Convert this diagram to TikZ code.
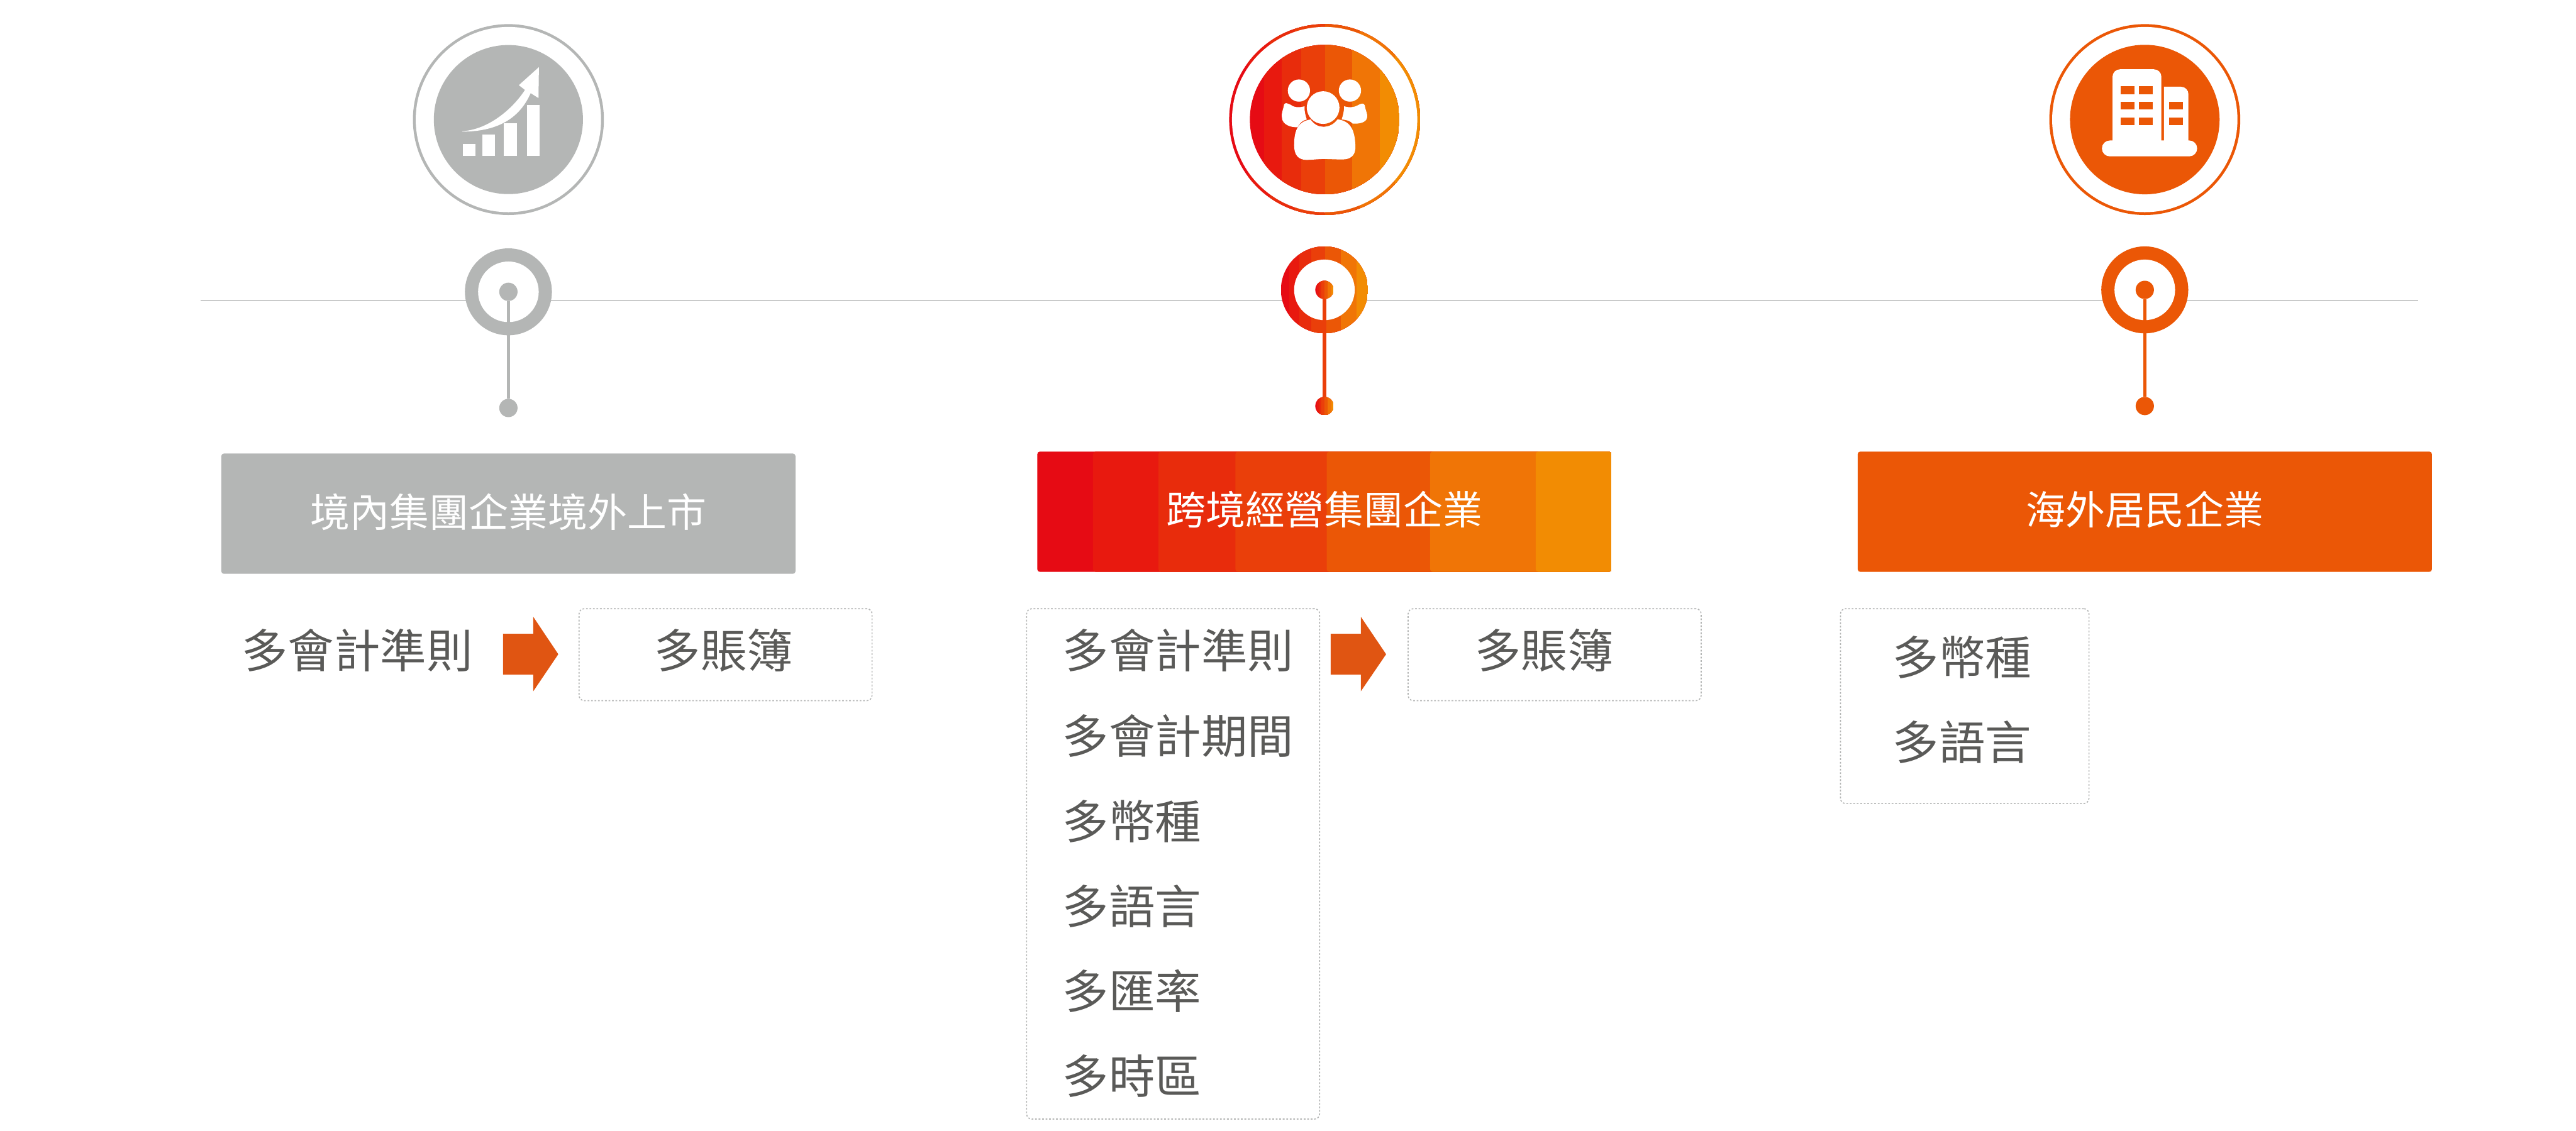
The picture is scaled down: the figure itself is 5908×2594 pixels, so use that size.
\documentclass[tikz,border=0pt]{standalone}
\usepackage{fontspec}
\newfontfamily\cjk{Noto Sans CJK TC}
\definecolor{bA}{HTML}{E60B14}
\definecolor{bB}{HTML}{E8190F}
\definecolor{bC}{HTML}{E82C0C}
\definecolor{bD}{HTML}{EA3F0A}
\definecolor{bE}{HTML}{EB5706}
\definecolor{bF}{HTML}{F07506}
\definecolor{bG}{HTML}{F28C03}
\definecolor{greyc}{HTML}{B4B6B5}
\definecolor{txtc}{HTML}{5A5A58}
\definecolor{arrc}{HTML}{E05512}
\definecolor{linec}{HTML}{C9CACA}
\tikzset{
  bands/.style={path picture={
    \foreach \bc/\ba in {bA/0,bB/.097,bC/.211,bD/.345,bE/.504,bF/.684,bG/.868}
      \fill[\bc] ([xshift=\ba*#1*0.25pt]path picture bounding box.south west)
        rectangle (path picture bounding box.north east);
  }},
  dotn/.style={circle,inner sep=0pt,outer sep=0pt,minimum size=#1*0.25pt},
  hbox/.style={rectangle,inner sep=0pt,outer sep=0pt,rounded corners=1.5pt,
    minimum width=1317*0.25pt,minimum height=276*0.25pt,text=white,
    font=\cjk\fontsize{22.7}{22.7}\selectfont,text height=18pt,text depth=2.88pt},
  dbox/.style={rectangle,inner sep=0pt,outer sep=0pt,draw=greyc,line width=0.6pt,
    dash pattern=on 1pt off 1pt,rounded corners=3pt,anchor=north west},
  lab/.style={anchor=base west,inner sep=0pt,outer sep=0pt,text=txtc,
    font=\cjk\fontsize{26.5}{26.5}\selectfont},
  stemline/.style={line width=2pt},
  tl/.style={line width=0.75pt,linec},
  blockarrow/.style={fill=arrc,draw=none}
}
\begin{document}
\begin{tikzpicture}[x=0.25pt,y=-0.25pt]
\useasboundingbox (0,0) rectangle (5908,2594);
% timeline
\coordinate (ls) at (460,689);
\coordinate (le) at (5546,689);
\draw[tl] (ls) -- (le);

% ---------- column 1
\node[dotn=438,fill=greyc] (o1) at (1166,274.3) {};
\node[dotn=425,fill=white] (oi1) at (1166,274.3) {};
\node[dotn=342,fill=greyc] (d1) at (1166,274.3) {};
\fill[white] (1061,331) rectangle (1090,358);
\fill[white] (1106,309) rectangle (1135,358);
\fill[white] (1156,283) rectangle (1185,358);
\fill[white] (1208,241) rectangle (1238,358);
\fill[white] (1060,301) .. controls (1125,297) and (1180,244) .. (1204,206.3)
  -- (1190,195.4) -- (1236,154) -- (1235,225) -- (1217,213.6)
  .. controls (1195,264) and (1150,302) .. (1060,302) -- cycle;
\node[dotn=199.5,fill=greyc] (r1) at (1166,669.5) {};
\node[dotn=139,fill=white] (ri1) at (1166,669.5) {};
\node[dotn=42,fill=greyc] (c1) at (1166,669.5) {};
\node[dotn=42,fill=greyc] (e1) at (1166,936) {};
\draw[stemline,greyc] (c1) -- (e1);
\node[hbox,fill=greyc] (h1) at (1166,1178.5) {境內集團企業境外上市};
\node[lab] (t11) at (554.5,1532.5) {多會計準則};
\fill[blockarrow] (1153.6,1454) -- (1223,1454) -- (1223,1415) -- (1280.4,1501) -- (1223,1586) -- (1223,1548) -- (1153.6,1548) -- cycle;
\node[dbox,minimum width=672*0.25pt,minimum height=211*0.25pt] (b12) at (1328,1396.5) {};
\node[lab] (t12) at (1501,1532.5) {多賬簿};

% ---------- column 2
\node[dotn=438,bands=438] (o2) at (3038,274.3) {};
\node[dotn=425,fill=white] (oi2) at (3038,274.3) {};
\node[dotn=343,bands=343] (d2) at (3038,274.3) {};
\begin{scope}[shift={(0,-1.2)}]
\fill[white] (2979,209) circle[radius=25.5];
\fill[white] (3096,209) circle[radius=25.5];
\fill[white] (3034.5,248) circle[radius=37.5];
\fill[white] (2992,245) .. controls (2978,249) and (2966,247) .. (2959,241)
  .. controls (2952,238) and (2947,236) .. (2945,241)
  .. controls (2943,253) and (2938,262) .. (2940,271)
  .. controls (2941,287) and (2960,294) .. (2976,293)
  .. controls (2981,283) and (2988,277) .. (2997,275.4)
  .. controls (2994,266) and (2991,255) .. cycle;
\fill[white] (3082.6,245) .. controls (3096,249) and (3106,247) .. (3113.6,243)
  .. controls (3120,239) and (3128,236) .. (3130,243)
  .. controls (3131,253) and (3137,262) .. (3135.4,270.5)
  .. controls (3134,283) and (3115,286) .. (3102,284.6)
  .. controls (3098,279) and (3088,276) .. (3077,275.4)
  .. controls (3080,266) and (3083,255) .. cycle;
\fill[white] (3005.6,275.4) .. controls (3014,287) and (3024,292) .. (3035,292)
  .. controls (3048,292) and (3060,286) .. (3067.6,275)
  .. controls (3098,279) and (3108,300) .. (3108.6,340)
  .. controls (3108,360) and (3095,367) .. (3079,367)
  .. controls (3060,367) and (3050,366) .. (3037,366)
  .. controls (3022,366) and (3010,368) .. (2995,368)
  .. controls (2978,367) and (2968,358) .. (2968,334)
  .. controls (2968,296) and (2980,279) .. cycle;
\end{scope}
\node[dotn=199.5,bands=200] (r2) at (3037.5,665) {};
\node[dotn=139,fill=white] (ri2) at (3037.5,665) {};
\node[dotn=42,bands=42] (c2) at (3037.5,665) {};
\node[dotn=42,bands=42] (e2) at (3037.5,931.5) {};
\draw[stemline,bD] (c2) -- (e2);
\node[hbox,bands=1317] (h2) at (3037.5,1174) {跨境經營集團企業};
\node[dbox,minimum width=672*0.25pt,minimum height=1171*0.25pt] (b21) at (2354.5,1396.5) {};
\node[lab] (t21) at (2437,1532.5) {多會計準則};
\node[lab] (t22) at (2437,1728.5) {多會計期間};
\node[lab] (t23) at (2437,1924.5) {多幣種};
\node[lab] (t24) at (2437,2119.5) {多語言};
\node[lab] (t25) at (2437,2314.5) {多匯率};
\node[lab] (t26) at (2437,2509.5) {多時區};
\fill[blockarrow] (3052,1454) -- (3121,1454) -- (3121,1415) -- (3179,1501) -- (3121,1586) -- (3121,1548) -- (3052,1548) -- cycle;
\node[dbox,minimum width=672*0.25pt,minimum height=211*0.25pt] (b22) at (3229.5,1396.5) {};
\node[lab] (t27) at (3383,1532.5) {多賬簿};

% ---------- column 3
\node[dotn=438,fill=bE] (o3) at (4919,274.3) {};
\node[dotn=425,fill=white] (oi3) at (4919,274.3) {};
\node[dotn=343,fill=bE] (d3) at (4919,274.3) {};
\fill[white] (4845,335) -- (4845,176) .. controls (4845,166.6) and (4852.6,159) .. (4862,159)
  -- (4940,159) .. controls (4949.4,159) and (4957,166.6) .. (4957,176) -- (4957,335) -- cycle;
\fill[white] (4963,335) -- (4963,199) -- (5002,199) .. controls (5011.4,199) and (5019,206.6) .. (5019,216) -- (5019,335) -- cycle;
\fill[white,rounded corners=4.5pt] (4820.7,322.3) rectangle (5039,358.7);
\fill[bE] (4864,197.7) rectangle (4896,215.7);
\fill[bE] (4905,197.7) rectangle (4937,215.7);
\fill[bE] (4864,233.7) rectangle (4896,251);
\fill[bE] (4905,233.7) rectangle (4937,251);
\fill[bE] (4864,269.7) rectangle (4896,287);
\fill[bE] (4905,269.7) rectangle (4937,287);
\fill[bE] (4975,233.7) rectangle (5007,251);
\fill[bE] (4975,269.7) rectangle (5007,287);
\node[dotn=199.5,fill=bE] (r3) at (4919,665) {};
\node[dotn=139,fill=white] (ri3) at (4919,665) {};
\node[dotn=42,fill=bE] (c3) at (4919,665) {};
\node[dotn=42,fill=bE] (e3) at (4919,931.5) {};
\draw[stemline,bE] (c3) -- (e3);
\node[hbox,fill=bE] (h3) at (4919,1174) {海外居民企業};
\node[dbox,minimum width=570*0.25pt,minimum height=447*0.25pt] (b31) at (4221,1396.5) {};
\node[lab] (t31) at (4341,1548.5) {多幣種};
\node[lab] (t32) at (4341,1743.5) {多語言};
\end{tikzpicture}
\end{document}
